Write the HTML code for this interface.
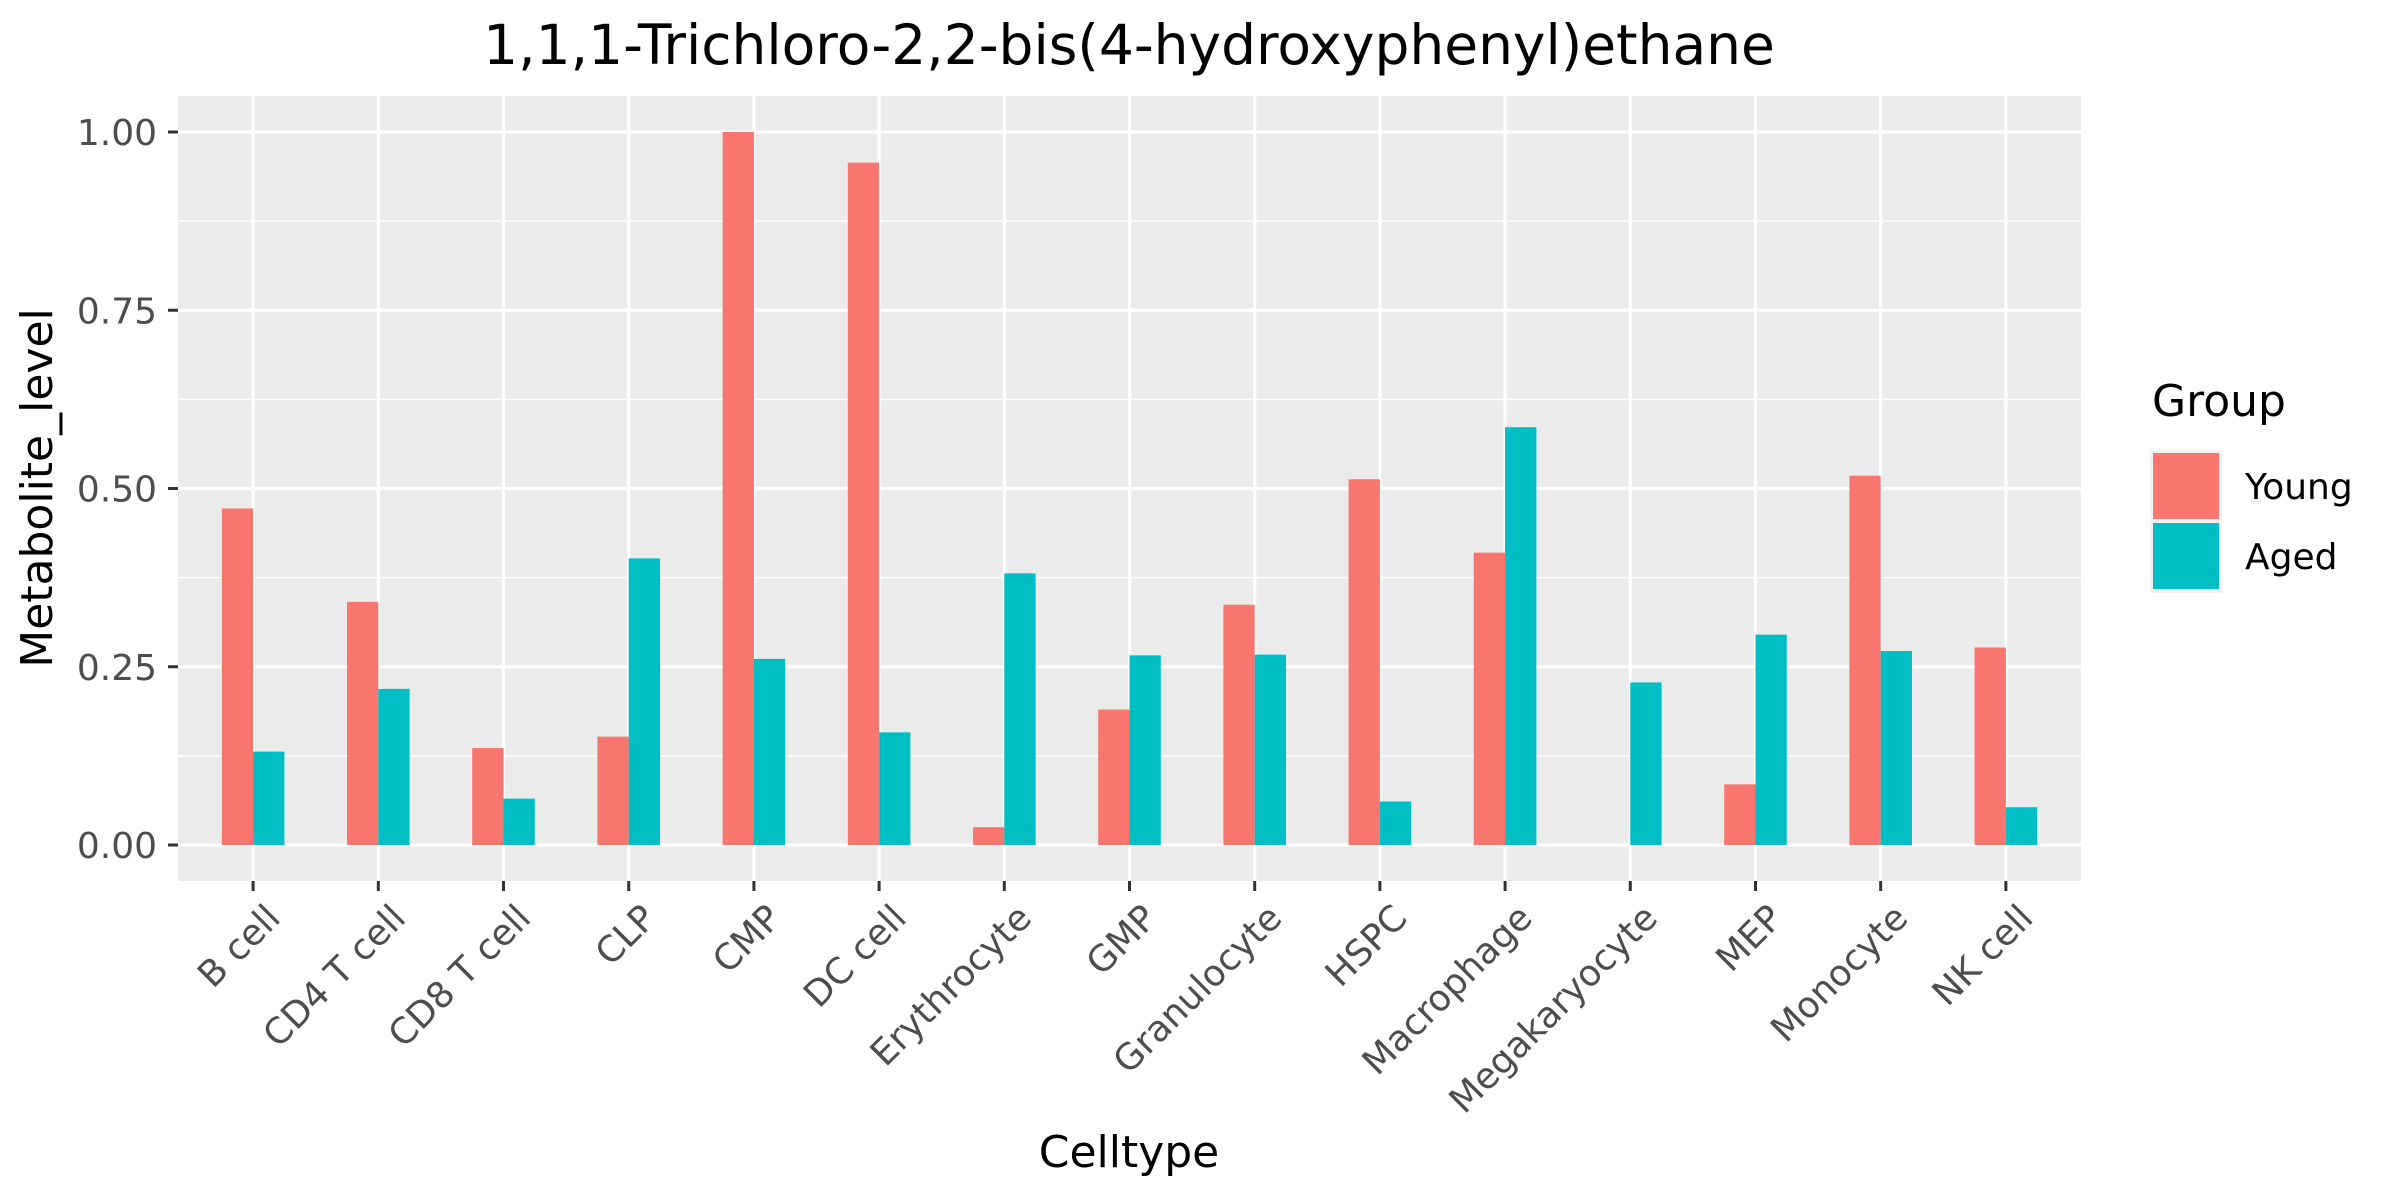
<!DOCTYPE html>
<html><head><meta charset="utf-8"><style>
html,body{margin:0;padding:0;background:#fff;}
svg{display:block;font-family:"DejaVu Sans","Liberation Sans",sans-serif;}
</style></head><body>
<svg id="chart" width="2400" height="1200" viewBox="0 0 2400 1200" xmlns="http://www.w3.org/2000/svg">
<rect x="0" y="0" width="2400" height="1200" fill="#ffffff"/>
<rect x="178" y="96" width="1903" height="785" fill="#EBEBEB"/>
<g id="grid"></g><g id="bars"></g><g id="axes"></g>
<text x="1129" y="64" text-anchor="middle" font-size="55" fill="#000">1,1,1-Trichloro-2,2-bis(4-hydroxyphenyl)ethane</text>
<text x="1129" y="1167" text-anchor="middle" font-size="44" fill="#000">Celltype</text>
<text transform="translate(52,488) rotate(-90)" text-anchor="middle" font-size="44" fill="#000">Metabolite_level</text>
<g>
<text x="2152" y="416" font-size="44" fill="#000">Group</text>
<rect x="2150" y="450" width="72" height="143" fill="#F2F2F2"/>
<rect x="2153" y="453" width="66" height="66" fill="#F8766D"/>
<rect x="2153" y="523" width="66" height="66" fill="#00BFC4"/>
<text x="2245" y="499" font-size="36" fill="#000">Young</text>
<text x="2245" y="569" font-size="36" fill="#000">Aged</text>
</g>
</svg>
<script>
const categories = ["B cell","CD4 T cell","CD8 T cell","CLP","CMP","DC cell","Erythrocyte","GMP","Granulocyte","HSPC","Macrophage","Megakaryocyte","MEP","Monocyte","NK cell"];
const youngValues = [0.472,0.341,0.136,0.152,1.0,0.957,0.025,0.190,0.337,0.513,0.410,0,0.085,0.518,0.277];
const agedValues = [0.131,0.219,0.065,0.402,0.261,0.158,0.381,0.266,0.267,0.061,0.586,0.228,0.295,0.272,0.053];
const yTicks = [0,0.25,0.5,0.75,1.0];
const yTickLabels = ["0.00","0.25","0.50","0.75","1.00"];
const yMinor = [0.125,0.375,0.625,0.875];

const NS="http://www.w3.org/2000/svg";
const panelL=178, panelR=2081, panelT=96, panelB=881;
const n=categories.length;
const step=(panelR-panelL)/(n-1+1.2);
function xPos(i){return panelL+step*(0.6+i);}
const y0=845, y1=132;
function yPos(v){return y0-(y1-y0)*(-v);}
function mk(tag,attrs,parent){const e=document.createElementNS(NS,tag);for(const k in attrs)e.setAttribute(k,attrs[k]);parent.appendChild(e);return e;}
const grid=document.getElementById('grid'), bars=document.getElementById('bars'), axes=document.getElementById('axes');
yMinor.forEach(v=>{const l=mk('line',{x1:panelL,x2:panelR,y1:yPos(v),y2:yPos(v),stroke:'#fff','stroke-width':1.5},grid);

});
yTicks.forEach((v,i)=>{const l=mk('line',{x1:panelL,x2:panelR,y1:yPos(v),y2:yPos(v),stroke:'#fff','stroke-width':3.2},grid);


const t=mk('line',{x1:168,x2:178,y1:yPos(v),y2:yPos(v),stroke:'#333','stroke-width':3},axes);


const tx=mk('text',{x:157,y:yPos(v)+13,'text-anchor':'end','font-size':36,fill:'#4D4D4D'},axes);
tx.textContent=yTickLabels[i];

});
const bw=step*0.25;
categories.forEach((c,i)=>{const x=xPos(i);
const g=mk('line',{x1:x,x2:x,y1:panelT,y2:panelB,stroke:'#fff','stroke-width':3.2},grid);


const ry=mk('rect',{x:x-bw,y:yPos(youngValues[i]),width:bw,height:yPos(0)-yPos(youngValues[i]),fill:'#F8766D'},bars);


const ra=mk('rect',{x:x,y:yPos(agedValues[i]),width:bw,height:yPos(0)-yPos(agedValues[i]),fill:'#00BFC4'},bars);


const t=mk('line',{x1:x,x2:x,y1:panelB,y2:panelB+10,stroke:'#333','stroke-width':3},axes);


const tx=mk('text',{transform:`translate(${x+10},${panelB+20}) rotate(-45)`,'text-anchor':'end','font-size':36,fill:'#4D4D4D'},axes);
tx.setAttribute('dy','0.75em');
tx.textContent=c;

});
</script>
</body></html>
